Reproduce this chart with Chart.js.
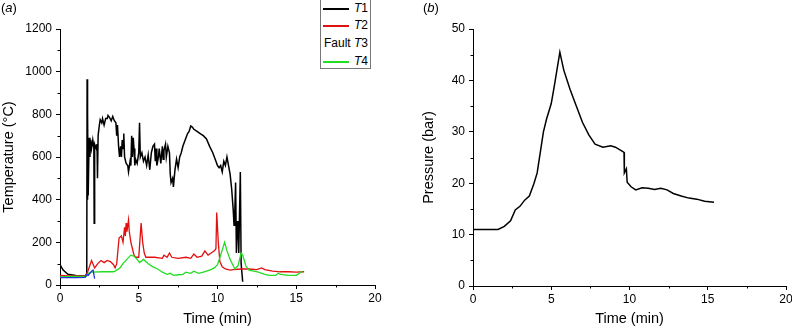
<!DOCTYPE html>
<html lang="en">
<head>
    <meta charset="UTF-8">
    <title>Temperature and Pressure</title>
    <script src="https://cdn.jsdelivr.net/npm/chart.js"></script>
    <style>
        html, body { margin: 0; padding: 0; background: #fff; overflow: hidden; }
        body { width: 792px; height: 328px; position: relative; font-family: "Liberation Sans", Arial, sans-serif; }
        .panel { position: absolute; top: 0; height: 328px; }
        #panelA { left: 0; width: 396px; }
        #panelB { left: 396px; width: 400px; }
        .tag { position: absolute; top: 0; font-size: 13px; }
        .legend { position: absolute; left: 320px; top: -1px; width: 49px; height: 68px; border: 1px solid #777; background: #fff; font-size: 12px; }
        .legend .row { position: absolute; left: 0; right: 2px; height: 14px; line-height: 14px; text-align: right; }
        .legend .sample { position: absolute; left: 2px; top: 7px; width: 26px; height: 1.5px; }
    </style>
</head>
<body>
    <div class="panel" id="panelA"><canvas id="tempChart"></canvas></div>
    <div class="panel" id="panelB"><canvas id="pressChart"></canvas></div>
    <div class="tag" style="left:1px;">(<i>a</i>)</div>
    <div class="tag" style="left:423px;">(<i>b</i>)</div>
    <div class="legend">
        <div class="row" style="top:1px;"><span class="sample" style="background:#000"></span><i>T</i>1</div>
        <div class="row" style="top:18px;"><span class="sample" style="background:#e01010"></span><i>T</i>2</div>
        <div class="row" style="top:36px;">Fault <i>T</i>3</div>
        <div class="row" style="top:54px;"><span class="sample" style="background:#22dd22"></span><i>T</i>4</div>
    </div>

    <script>
        // --- (a) temperature traces, time in minutes ---
        const t1Time = [0, 0.2, 0.5, 1.0, 1.6, 1.7, 1.72, 1.74, 1.76, 1.79, 1.85, 1.9, 1.95, 2.0, 2.08, 2.15, 2.17, 2.2, 2.3, 2.35, 2.38, 2.42,
            2.5, 2.55, 2.65, 2.7, 2.8, 2.9, 3.0, 3.05, 3.15, 3.25, 3.35, 3.45, 3.55, 3.6, 3.65, 3.72, 3.78, 3.85, 3.9, 3.95, 4.0, 4.05,
            4.1, 4.2, 4.3, 4.35, 4.45, 4.5, 4.55, 4.6, 4.65, 4.7, 4.75, 4.8, 4.9, 5.0, 5.05, 5.1, 5.2, 5.3, 5.4, 5.5, 5.6, 5.7, 5.8,
            5.9, 6.0, 6.05, 6.1, 6.15, 6.25, 6.3, 6.4, 6.5, 6.55, 6.6, 6.7, 6.75, 6.85, 6.95, 7.0, 7.05, 7.15, 7.2, 7.3, 7.4, 7.5,
            7.6, 7.7, 7.8, 7.9, 8.0, 8.1, 8.2, 8.3, 8.4, 8.5, 8.7, 8.9, 9.1, 9.3, 9.5, 9.7, 9.8, 9.9, 10.0, 10.1, 10.2, 10.3, 10.4,
            10.5, 10.6, 10.7, 10.8, 10.9, 11.0, 11.05, 11.1, 11.15, 11.2, 11.25, 11.3, 11.35, 11.45, 11.5, 11.6];
        const t1Temp = [95, 70, 50, 45, 42, 50, 965, 400, 800, 420, 690, 600, 680, 640, 680, 640, 290, 660, 640, 660, 500, 700,
            750, 775, 760, 780, 750, 780, 780, 795, 785, 770, 790, 770, 760, 700, 750, 650, 600, 650, 600, 680, 640, 710,
            600, 570, 560, 530, 580, 560, 700, 600, 690, 640, 560, 590, 570, 620, 760, 600, 620, 580, 600, 560, 610, 540, 620,
            650, 660, 580, 640, 560, 600, 640, 570, 650, 590, 630, 660, 600, 650, 620, 520, 480, 500, 460, 540, 590, 550,
            600, 620, 650, 670, 690, 710, 720, 745, 740, 730, 720, 710, 700, 685, 650, 620, 600, 580, 560, 550, 560, 530, 580,
            560, 600, 560, 520, 450, 350, 280, 350, 480, 150, 300, 260, 150, 530, 100, 15];

        const t2Time = [0, 0.5, 1.0, 1.6, 1.75, 2.0, 2.2, 2.4, 2.6, 2.8, 3.0, 3.2, 3.4, 3.5, 3.6, 3.75, 3.9, 4.0, 4.1, 4.15, 4.2,
            4.25, 4.35, 4.4, 4.5, 4.6, 4.7, 4.8, 5.0, 5.15, 5.25, 5.35, 5.45, 5.6, 6.0, 6.5, 6.6, 6.8, 6.95, 7.1, 7.5, 8.0, 8.3,
            8.5, 8.7, 9.0, 9.2, 9.4, 9.6, 9.8, 9.9, 9.95, 10.05, 10.15, 10.3, 10.5, 10.8, 11.0, 11.5, 12.0, 12.5, 12.8, 13.0,
            13.5, 14.0, 14.5, 15.0, 15.5];
        const t2Temp = [45, 43, 43, 44, 60, 115, 80, 100, 115, 105, 115, 110, 95, 80, 100, 220, 230, 200, 270, 230, 290,
            250, 305, 250, 200, 170, 140, 130, 130, 290, 200, 150, 130, 130, 130, 125, 140, 130, 150, 130, 125, 130, 125,
            145, 130, 135, 160, 140, 150, 160, 170, 340, 200, 110, 85, 75, 70, 72, 75, 75, 72, 80, 72,
            65, 62, 62, 60, 62];

        const t3Time = [0, 0.5, 1.0, 1.6, 1.7, 1.8, 2.0, 2.1, 2.2];
        const t3Temp = [35, 35, 35, 36, 50, 45, 65, 70, 30];

        const t4Time = [0, 0.8, 1.7, 1.8, 2.0, 2.7, 3.4, 3.5, 3.8, 4.0, 4.3, 4.5, 4.7, 4.9, 5.05, 5.3, 5.6, 5.9, 6.2, 6.5, 6.8,
            7.0, 7.2, 7.5, 7.8, 8.0, 8.3, 8.5, 8.8, 9.1, 9.5, 9.8, 10.0, 10.2, 10.45, 10.6, 10.8, 11.1, 11.3, 11.5, 11.6, 11.8,
            12.0, 12.3, 12.6, 13.0, 13.3, 13.7, 13.85, 14.0, 14.5, 15.0, 15.2, 15.4];
        const t4Temp = [38, 40, 42, 55, 60, 62, 62, 65, 80, 100, 125, 140, 135, 120, 105, 120, 100, 85, 75, 60, 50,
            55, 45, 48, 50, 60, 55, 65, 55, 60, 70, 80, 95, 140, 200, 160, 120, 75, 90, 150, 140, 90,
            70, 65, 60, 50, 45, 45, 55, 50, 45, 45, 55, 65];

        // --- (b) pressure trace ---
        const pTime = [0, 1.6, 2.0, 2.4, 2.7, 3.0, 3.3, 3.6, 3.9, 4.1, 4.3, 4.5, 4.7, 5.0, 5.2, 5.55, 5.8, 6.2, 6.6, 7.0, 7.4,
            7.8, 8.3, 8.8, 9.1, 9.5, 9.65, 9.67, 9.75, 9.8, 9.85, 10.1, 10.4, 10.8, 11.2, 11.6, 12.0, 12.4, 12.8, 13.3, 13.8,
            14.3, 14.8, 15.4];
        const pBar = [11, 11, 11.6, 12.7, 14.8, 15.5, 16.7, 17.5, 20, 22, 26, 30, 32.5, 35.5, 39, 45.5, 42, 38.3, 35, 31.8, 29.4,
            27.6, 27, 27.3, 27, 26.3, 26, 22, 22.5, 22.8, 20.2, 19.3, 18.7, 19.1, 19.0, 18.8, 19.0, 18.7, 18.0, 17.5, 17.1,
            16.9, 16.5, 16.3];

        const xTicks = [0, 5, 10, 15, 20];

        function toPoints(xs, ys) {
            return xs.map((x, i) => ({ x: x, y: ys[i] }));
        }

        Chart.defaults.font.family = '"Liberation Sans", Arial, sans-serif';
        Chart.defaults.color = '#000';
        Chart.defaults.animation = false;

        // short minor tick marks half-way between the labelled ones
        const minorTicks = {
            id: 'minorTicks',
            afterDraw(chart, args, opts) {
                const ctx = chart.ctx;
                ctx.save();
                ctx.strokeStyle = '#000';
                ctx.lineWidth = 1;
                const xs = chart.scales.x, ys = chart.scales.y;
                for (let v = opts.x / 2; v < xs.max; v += opts.x) {
                    const px = Math.round(xs.getPixelForValue(v)) + 0.5;
                    ctx.beginPath(); ctx.moveTo(px, xs.top); ctx.lineTo(px, xs.top + 2.5); ctx.stroke();
                }
                for (let v = opts.y / 2; v < ys.max; v += opts.y) {
                    const py = Math.round(ys.getPixelForValue(v)) + 0.5;
                    ctx.beginPath(); ctx.moveTo(ys.right - 2.5, py); ctx.lineTo(ys.right, py); ctx.stroke();
                }
                ctx.restore();
            }
        };

        function axisX(height) {
            return {
                type: 'linear', min: 0, max: 20,
                afterBuildTicks: s => { s.ticks = xTicks.map(v => ({ value: v })); },
                afterFit: s => { s.height = height; },
                grid: { drawOnChartArea: false, tickLength: 4, color: '#000' },
                border: { color: '#000', width: 1 },
                ticks: { font: { size: 12 }, padding: 2, maxRotation: 0, callback: v => String(v) },
                title: { display: true, text: 'Time (min)', font: { size: 14.5 }, padding: { top: 0, bottom: 0 } }
            };
        }

        function axisY(min, max, step, width, label) {
            return {
                type: 'linear', min: min, max: max,
                afterFit: s => { s.width = width; },
                grid: { drawOnChartArea: false, tickLength: 4, color: '#000' },
                border: { color: '#000', width: 1 },
                ticks: { stepSize: step, font: { size: 12 }, padding: 4, callback: v => String(v) },
                title: { display: true, text: label, font: { size: 14.5 }, padding: { top: 0, bottom: 0 } }
            };
        }

        function lineSet(label, pts, color, width) {
            return { label: label, data: pts, borderColor: color, borderWidth: width, pointRadius: 0, tension: 0, fill: false };
        }

        new Chart(document.getElementById('tempChart'), {
            type: 'line',
            data: {
                datasets: [
                    lineSet('T3', toPoints(t3Time, t3Temp), '#2233dd', 1.3),
                    lineSet('T4', toPoints(t4Time, t4Temp), '#22dd22', 1.3),
                    lineSet('T2', toPoints(t2Time, t2Temp), '#e01010', 1.3),
                    lineSet('T1', toPoints(t1Time, t1Temp), '#000000', 1.5)
                ]
            },
            options: {
                responsive: true,
                maintainAspectRatio: false,
                layout: { padding: { left: 0, top: 29, right: 21, bottom: 0 } },
                plugins: { legend: { display: false }, tooltip: { enabled: false }, minorTicks: { x: 5, y: 200 } },
                scales: {
                    x: axisX(43),
                    y: axisY(0, 1200, 200, 60, 'Temperature (°C)')
                }
            },
            plugins: [minorTicks]
        });

        new Chart(document.getElementById('pressChart'), {
            type: 'line',
            data: {
                datasets: [lineSet('Pressure', toPoints(pTime, pBar), '#000000', 1.5)]
            },
            options: {
                responsive: true,
                maintainAspectRatio: false,
                layout: { padding: { left: 24, top: 29, right: 10, bottom: 0 } },
                plugins: { legend: { display: false }, tooltip: { enabled: false }, minorTicks: { x: 5, y: 10 } },
                scales: {
                    x: axisX(42),
                    y: axisY(0, 50, 10, 53, 'Pressure (bar)')
                }
            },
            plugins: [minorTicks]
        });
    </script>
</body>
</html>
